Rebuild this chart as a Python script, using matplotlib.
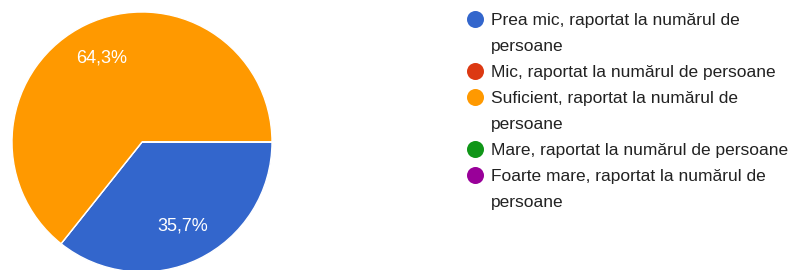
import matplotlib
matplotlib.use("Agg")
import matplotlib.pyplot as plt

categories = [
    "Prea mic, raportat la numărul de\npersoane",
    "Mic, raportat la numărul de persoane",
    "Suficient, raportat la numărul de\npersoane",
    "Mare, raportat la numărul de persoane",
    "Foarte mare, raportat la numărul de\npersoane",
]
values = [35.7, 0.0, 64.3, 0.0, 0.0]
colors = ["#3366CC", "#DC3912", "#FF9900", "#109618", "#990099"]

plt.rcParams['font.family'] = ['Liberation Sans', 'DejaVu Sans']

W, H = 792, 270
fig = plt.figure(figsize=(W / 100, H / 100), dpi=100)
ax = fig.add_axes([0, 0, 1, 1])

def fmt(p):
    return "" if p < 0.05 else f"{p:.1f}".replace(".", ",") + "%"

wedges, texts, autotexts = ax.pie(
    values, colors=colors, startangle=0, counterclock=False,
    center=(142, H - 142), radius=130, autopct=fmt, pctdistance=0.72,
    wedgeprops=dict(edgecolor="white", linewidth=1),
    textprops=dict(color="white", fontsize=13), frame=True)

ax.set_xlim(0, W)
ax.set_ylim(0, H)
ax.set_aspect("equal")
ax.axis("off")

# legend
y = 19
lx_marker, lx_text = 475, 491
for lab, col in zip(categories, colors):
    ax.scatter([lx_marker], [H - y], s=150, color=col, zorder=5, clip_on=False,
               linewidths=0)
    for line in lab.split("\n"):
        ax.text(lx_text, H - y, line, fontsize=12.5, color="#222222",
                va="center_baseline", ha="left")
        y += 26

fig.savefig("out.png", dpi=100)
